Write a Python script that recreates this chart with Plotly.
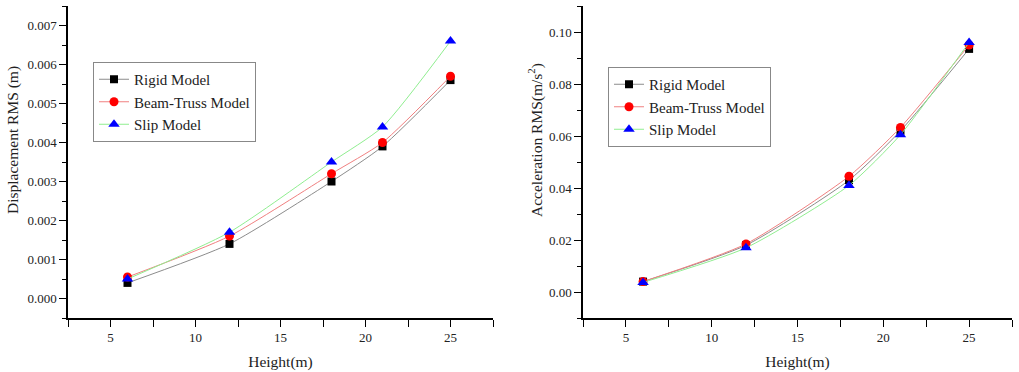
import plotly.graph_objects as go

heights = [6, 12, 18, 21, 25]
series_names = ["Rigid Model", "Beam-Truss Model", "Slip Model"]
disp_rigid = [0.0004, 0.0014, 0.0030, 0.0039, 0.0056]
disp_beam = [0.00055, 0.0016, 0.0032, 0.0040, 0.0057]
disp_slip = [0.0005, 0.0017, 0.0035, 0.0044, 0.0066]
acc_rigid = [0.0040, 0.0180, 0.0430, 0.0620, 0.0935]
acc_beam = [0.0040, 0.0185, 0.0445, 0.0633, 0.0950]
acc_slip = [0.0037, 0.0170, 0.0410, 0.0605, 0.0960]

line_colors = ["#8c8c8c", "#f08080", "#90ee90"]
marker_colors = ["black", "red", "blue"]
symbols = ["square", "circle", "triangle-up"]
marker_sizes = [8, 9, 10]

FONT = "Liberation Serif, Times New Roman, serif"
fig = go.Figure()

for i, ys in enumerate([disp_rigid, disp_beam, disp_slip]):
    fig.add_trace(go.Scatter(
        x=heights, y=ys, name=series_names[i], mode="lines+markers",
        line=dict(color=line_colors[i], width=1, shape="spline", smoothing=0.6),
        marker=dict(color=marker_colors[i], symbol=symbols[i], size=marker_sizes[i]),
        xaxis="x", yaxis="y", legend="legend"))
for i, ys in enumerate([acc_rigid, acc_beam, acc_slip]):
    fig.add_trace(go.Scatter(
        x=heights, y=ys, name=series_names[i], mode="lines+markers",
        line=dict(color=line_colors[i], width=1, shape="spline", smoothing=0.6),
        marker=dict(color=marker_colors[i], symbol=symbols[i], size=marker_sizes[i]),
        xaxis="x2", yaxis="y2", legend="legend2"))

W, H = 1019, 372
ydom = [1 - 318 / H, 1 - 6 / H]

axis_common = dict(showline=True, linecolor="black", linewidth=1.5, showgrid=False,
                   zeroline=False, ticks="outside", ticklen=7, tickwidth=1, tickcolor="black",
                   tickfont=dict(family=FONT, size=13, color="#222"))
xminor = dict(ticks="outside", ticklen=7, tickwidth=1, tickcolor="black", dtick=2.5)
TITLE_FONT = dict(family=FONT, size=15.5, color="#222")

fig.update_layout(
    width=W, height=H,
    margin=dict(l=0, r=0, t=0, b=0),
    paper_bgcolor="white", plot_bgcolor="white",
    font=dict(family=FONT, color="#222"),
    xaxis=dict(domain=[68 / W, 493 / W], range=[2.5, 27.5], dtick=5, tick0=0, anchor="y",
               title=dict(text="Height(m)", font=TITLE_FONT, standoff=12),
               minor=xminor, **axis_common),
    yaxis=dict(domain=ydom, range=[-0.0005, 0.0075], dtick=0.001, tickformat=".3f", anchor="x",
               minor=dict(ticks="outside", ticklen=4, tickwidth=1, tickcolor="black", dtick=0.0005),
               **axis_common),
    xaxis2=dict(domain=[583 / W, 1012 / W], range=[2.5, 27.5], dtick=5, tick0=0, anchor="y2",
                title=dict(text="Height(m)", font=TITLE_FONT, standoff=12),
                minor=xminor, **axis_common),
    yaxis2=dict(domain=ydom, range=[-0.01, 0.11], dtick=0.02, tickformat=".2f", anchor="x2",
                minor=dict(ticks="outside", ticklen=4, tickwidth=1, tickcolor="black", dtick=0.01),
                **axis_common),
    legend=dict(x=93 / W, y=1 - 62 / H, xanchor="left", yanchor="top",
                bordercolor="#888", borderwidth=1, bgcolor="white",
                font=dict(family=FONT, size=15, color="#222"), itemwidth=30),
    legend2=dict(x=608 / W, y=1 - 67 / H, xanchor="left", yanchor="top",
                 bordercolor="#888", borderwidth=1, bgcolor="white",
                 font=dict(family=FONT, size=15, color="#222"), itemwidth=30),
    showlegend=True,
    annotations=[
        dict(text="Displacement RMS (m)", xref="paper", yref="paper",
             x=13 / W, y=1 - 140 / H, xanchor="center", yanchor="middle",
             textangle=-90, showarrow=False, font=TITLE_FONT),
        dict(text="Acceleration RMS(m/s<sup>2</sup>)", xref="paper", yref="paper",
             x=535 / W, y=1 - 140 / H, xanchor="center", yanchor="middle",
             textangle=-90, showarrow=False, font=TITLE_FONT),
    ],
)

fig.write_html("out.html")
